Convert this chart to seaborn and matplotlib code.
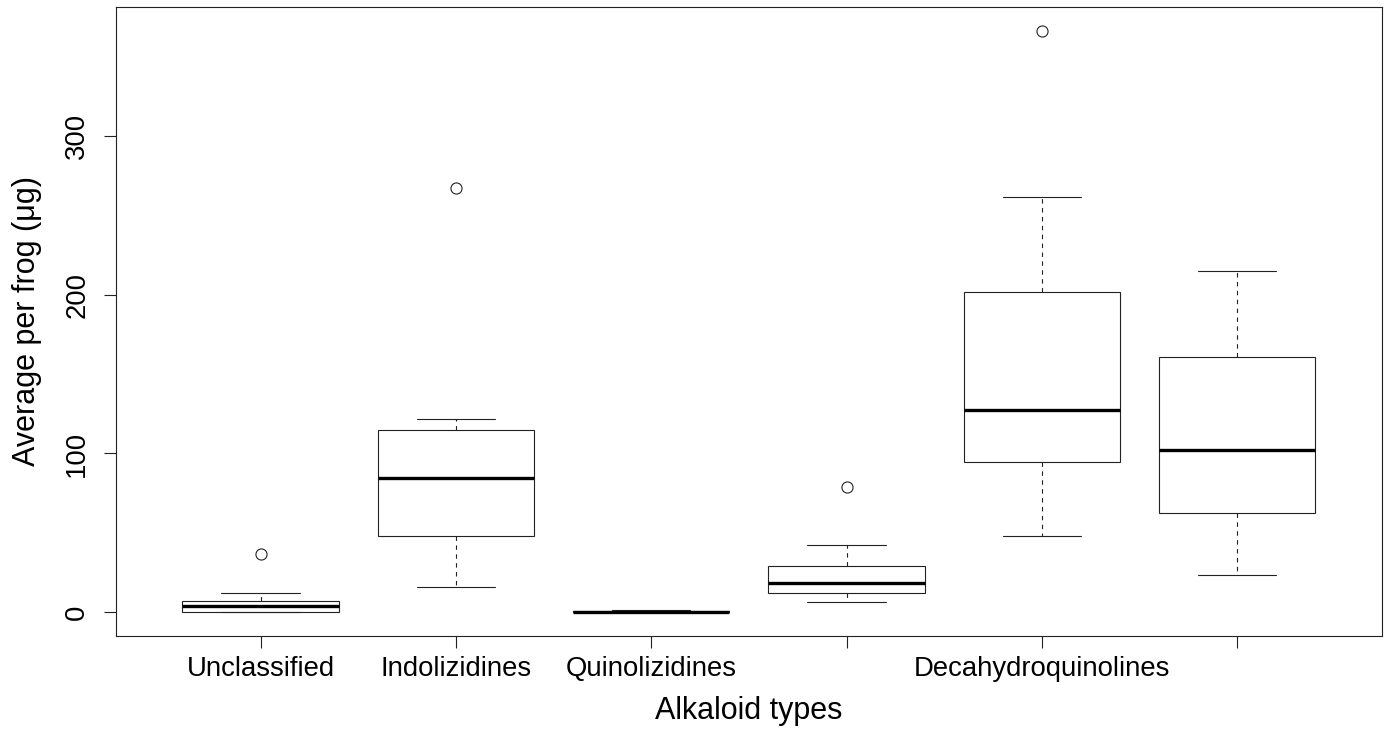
import pandas as pd
import matplotlib
matplotlib.use("Agg")
import matplotlib.pyplot as plt
import seaborn as sns

# box statistics (ug per frog)
groups = ["g1", "g2", "g3", "g4", "g5", "g6"]
tick_labels = ["Unclassified", "Indolizidines", "Quinolizidines", "",
               "Decahydroquinolines", ""]
whisker_low = [0.0, 16.0, 0.0, 6.5, 48.3, 23.5]
q1 = [0.0, 48.1, 0.0, 12.4, 94.7, 62.8]
median = [3.8, 84.6, 0.3, 18.3, 127.3, 101.9]
q3 = [7.0, 114.7, 0.7, 29.0, 201.9, 161.0]
whisker_high = [12.2, 122.0, 1.5, 42.2, 261.5, 215.0]
outliers = [[36.5], [267.0], [], [78.6], [366.0], []]

# rebuild a sample for each group that reproduces those statistics
rows = []
for i, g in enumerate(groups):
    vals = [whisker_low[i]] + [q1[i]] * 5 + [median[i]] * 5 + [q3[i]] * 5
    vals += [whisker_high[i]] + outliers[i]
    for v in vals:
        rows.append({"group": g, "value": v})
df = pd.DataFrame(rows)

sns.set_style("white")
plt.rcParams['font.family'] = ['Liberation Sans', 'DejaVu Sans']
plt.rcParams['text.color'] = 'black'
plt.rcParams['axes.labelcolor'] = 'black'
plt.rcParams['xtick.color'] = 'black'
plt.rcParams['ytick.color'] = 'black'

fig = plt.figure(figsize=(13.89, 7.30), dpi=100)
ax = fig.add_axes([116 / 1389, 1 - 635.7 / 730, (1381.7 - 116) / 1389, (635.7 - 6.7) / 730])

lc = "#222222"
sns.boxplot(data=df, x="group", y="value", order=groups, ax=ax,
            width=0.8, whis=1.5, color="white", linecolor=lc, linewidth=0.8,
            boxprops=dict(facecolor="white", edgecolor=lc, linewidth=0.8),
            whiskerprops=dict(color=lc, linewidth=0.8, linestyle=(0, (4, 4))),
            capprops=dict(color=lc, linewidth=0.8),
            medianprops=dict(color="black", linewidth=2.4),
            flierprops=dict(marker="o", markersize=8, markerfacecolor="none",
                            markeredgecolor=lc, markeredgewidth=0.8))

ax.set_xlim(-0.74, 5.74)
ax.set_ylim(-14.7, 381.2)
ax.set_yticks([0, 100, 200, 300])
ax.set_xticks(range(len(groups)))
ax.set_xticklabels(tick_labels, fontsize=19.8, color="black")
ax.set_yticklabels(["0", "100", "200", "300"], fontsize=19.8, rotation=90,
                   va="center", color="black")

for side in ["left", "right", "top", "bottom"]:
    ax.spines[side].set_visible(True)
    ax.spines[side].set_color(lc)
    ax.spines[side].set_linewidth(0.8)

ax.tick_params(axis="both", direction="out", length=8.5, width=0.8, color=lc,
               left=True, bottom=True)
ax.tick_params(axis="x", pad=6)
ax.tick_params(axis="y", pad=10)

ax.set_xlabel("Alkaloid types", fontsize=22, labelpad=10, color="black")
ax.set_ylabel("Average per frog (\u03bcg)", fontsize=22, labelpad=16, color="black")

fig.savefig("out.png", dpi=100, facecolor="white")
